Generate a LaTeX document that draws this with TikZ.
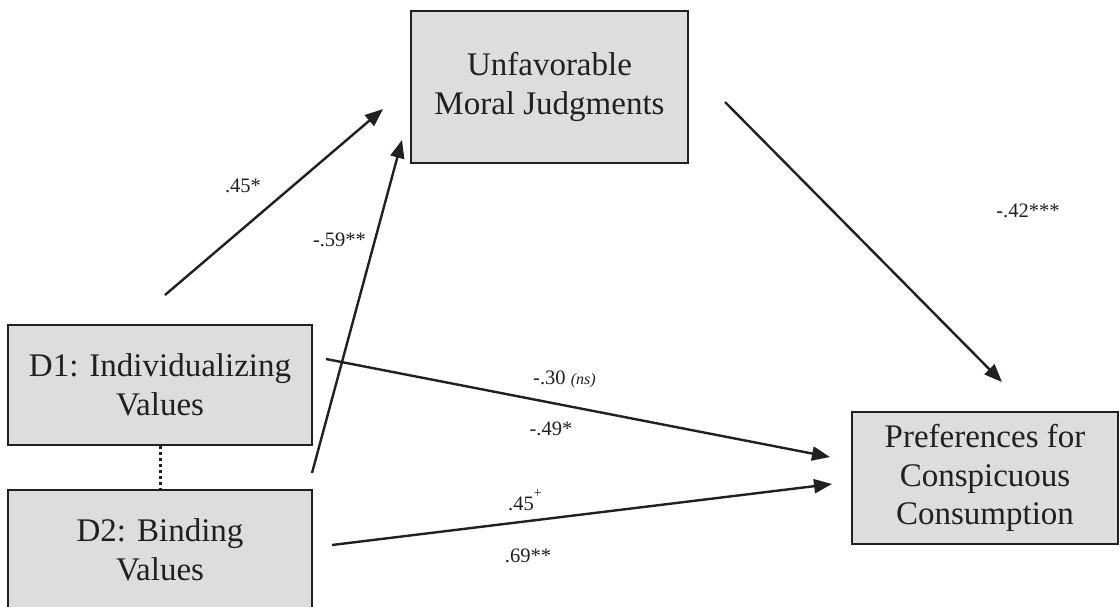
\documentclass[tikz,border=0pt]{standalone}
\usepackage{fontspec}
\setmainfont{Liberation Serif}
\usetikzlibrary{arrows.meta}
\definecolor{boxfill}{HTML}{DCDDDE}
\definecolor{ink}{HTML}{231F20}
\begin{document}
\begin{tikzpicture}[x=1pt,y=-1pt,
  box/.style={draw=ink, line width=2pt, fill=boxfill, inner sep=0pt, align=center,
    font=\fontsize{33}{38.5}\selectfont, text=ink},
  conn/.style={draw=ink, line width=2.4pt, -{Triangle[length=18pt,width=14pt]}},
  lab/.style={font=\fontsize{20.5}{24}\selectfont, text=ink, inner sep=0pt},
  dotline/.style={draw=ink, line width=3pt, dash pattern=on 3pt off 3pt}]
\useasboundingbox (0,0) rectangle (1120,606);
\fill[white] (0,0) rectangle (1120,606);
% boxes
\node[box, minimum width=304pt, minimum height=120pt] (d1) at (160,385) {D1: Individualizing\\Values};
\node[box, minimum width=304pt, minimum height=120pt] (d2) at (160,550) {D2: Binding\\Values};
\node[box, minimum width=277pt, minimum height=152pt] (umj) at (549.5,87) {Unfavorable\\Moral Judgments};
\node[box, minimum width=266pt, minimum height=132pt] (pcc) at (985,478) {Preferences for\\Conspicuous\\Consumption};
% dotted link
\draw[dotline] (d1.south) -- (d2.north);
% connector ends
\coordinate (a1s) at (165,295); \coordinate (a1e) at (383,109);
\coordinate (a2s) at (312,473); \coordinate (a2e) at (402,140);
\coordinate (a3s) at (725,102); \coordinate (a3e) at (1002,382);
\coordinate (a4s) at (326,359); \coordinate (a4e) at (830,457);
\coordinate (a5s) at (332,545); \coordinate (a5e) at (832,484);
\draw[conn] (a1s) -- (a1e);
\draw[conn] (a2s) -- (a2e);
\draw[conn] (a3s) -- (a3e);
\draw[conn] (a4s) -- (a4e);
\draw[conn] (a5s) -- (a5e);
% labels
\node[lab] (l1) at (243,186) {.45*};
\node[lab] (l2) at (339.5,240) {-.59**};
\node[lab, anchor=base west] (l3) at (533,384) {-.30 {\fontsize{16}{18}\selectfont\itshape (ns)}};
\node[lab] (l4) at (551,429) {-.49*};
\node[lab, anchor=base west] (l5) at (508,510) {.45\raisebox{0.6em}{\fontsize{14}{14}\selectfont +}};
\node[lab] (l6) at (528,556) {.69**};
\node[lab] (l7) at (1028,211) {-.42***};
\end{tikzpicture}
\end{document}
